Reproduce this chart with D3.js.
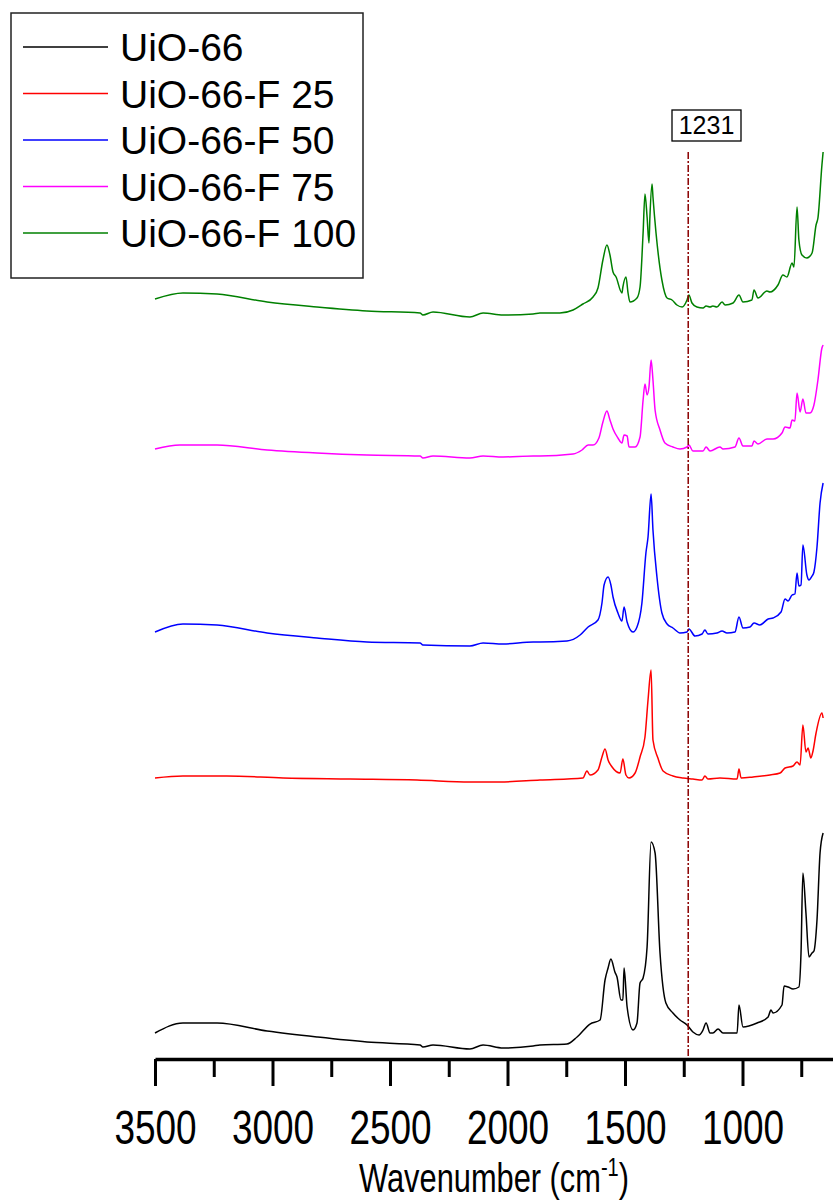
<!DOCTYPE html>
<html>
<head>
<meta charset="utf-8">
<script src="https://cdn.jsdelivr.net/npm/d3@7"></script>
<style>
  body { margin: 0; background: #fff; }
  svg { display: block; font-family: Arial, "Liberation Sans", sans-serif; }
</style>
</head>
<body>
<svg id="chart" width="833" height="1202"></svg>
<script>
// series names + colours
const seriesNames = ["UiO-66", "UiO-66-F 25", "UiO-66-F 50", "UiO-66-F 75", "UiO-66-F 100"]
const seriesColors = ["#000000", "#ff0000", "#0000ff", "#ff00ff", "#008000"]

// wavenumbers (cm-1) and stacked intensity
const wnBlack = [3500,3381,3236,3023,2811,2598,2372,2360,2317,2160,2104,2019,1891,1862,1747,1704,1649,1606,1585,1572,1560,1543,1534,1517,1509,1504,1491,1466,1449,1436,1423,1406,1389,1372,1351,1326,1296,1266,1236,1211,1185,1168,1155,1138,1126,1104,1083,1023,1015,998,938,891,879,870,832,823,806,785,760,751,743,730,717,704,696,683,670,657]
const valBlack = [2.6,3.6,3.6,2.8,2.2,1.7,1.4,1.2,1.4,1.0,1.4,1.1,1.3,1.4,1.5,2.2,3.5,3.9,7.9,9.1,10.0,8.7,8.2,5.9,5.9,9.1,5.2,2.9,3.6,7.6,8.1,11.2,21.7,20.6,10.6,5.6,4.6,3.9,3.4,2.7,2.4,2.9,3.6,2.6,2.6,3.0,2.6,2.6,5.4,3.2,3.6,4.2,4.9,4.6,5.4,7.3,7.2,7.0,7.2,10.6,18.6,14.6,10.2,10.6,10.8,13.9,20.6,22.6]

const wnRed = [3500,3381,3194,2955,2670,2385,2160,2032,1862,1679,1662,1649,1615,1598,1585,1572,1555,1521,1509,1496,1483,1457,1436,1415,1402,1389,1381,1360,1338,1296,1253,1211,1172,1160,1147,1096,1023,1015,1006,955,883,840,819,785,768,755,743,730,721,709,700,687,662,657]
const valRed = [28.1,28.3,28.3,28.1,28.0,27.9,27.7,27.7,27.9,28.1,28.8,28.4,28.9,30.2,31.0,29.9,29.2,28.6,30.0,28.4,28.1,28.6,30.2,32.2,35.9,38.9,31.9,30.1,28.8,28.3,28.1,28.0,27.9,28.3,28.0,28.1,28.0,29.0,28.1,28.2,28.4,28.6,29.1,29.3,29.7,29.4,33.4,30.7,31.1,30.1,30.8,32.6,34.6,34.1]

const wnBlue = [3500,3381,3236,3023,2811,2598,2372,2360,2160,2104,2019,1891,1862,1747,1691,1657,1615,1598,1589,1572,1560,1551,1530,1513,1504,1491,1466,1449,1428,1411,1402,1389,1381,1364,1343,1321,1296,1266,1236,1228,1202,1172,1160,1147,1109,1087,1066,1032,1015,998,968,951,926,891,870,836,819,806,789,777,768,760,751,743,726,717,704,696,683,670,657]
const valBlue = [42.7,43.5,43.4,42.6,42.1,41.7,41.6,41.4,41.3,41.6,41.5,41.7,41.7,41.8,42.4,43.2,43.9,45.6,47.4,48.2,47.4,46.2,44.6,43.8,45.2,43.7,42.7,43.2,45.6,50.6,52.2,56.5,52.9,48.2,44.6,43.5,43.1,42.6,42.7,43.0,42.3,42.5,42.9,42.5,42.6,42.8,42.6,42.7,44.2,43.1,43.2,43.6,43.4,44.0,44.1,44.7,46.0,45.8,46.4,46.5,48.6,47.3,47.4,51.4,48.4,47.9,48.3,48.7,51.2,55.6,57.6]

const wnMagenta = [3500,3394,3236,3023,2811,2598,2372,2360,2317,2160,2104,2019,1891,1862,1721,1683,1657,1636,1611,1594,1577,1564,1551,1530,1513,1504,1491,1483,1457,1436,1423,1415,1406,1398,1389,1381,1372,1351,1330,1296,1266,1236,1228,1211,1168,1155,1138,1096,1083,1032,1015,998,960,951,934,896,870,832,819,798,789,777,768,755,743,730,713,696,679,662,657]
const valMagenta = [61.0,61.4,61.4,60.9,60.6,60.4,60.3,60.1,60.3,60.1,60.3,60.2,60.3,60.3,60.5,60.9,61.4,61.4,62.1,63.7,64.8,63.9,63.0,62.1,61.6,62.4,62.3,61.2,61.2,62.2,65.9,67.5,66.4,67.2,69.9,67.9,64.9,62.9,61.6,61.2,61.0,61.2,61.4,60.8,60.8,61.2,60.8,61.2,61.0,61.2,62.1,61.3,61.3,61.8,61.5,62.0,62.0,62.6,63.2,63.1,63.9,63.8,66.6,64.7,66.0,64.6,64.6,65.4,67.9,71.1,71.4]

const wnGreen = [3500,3381,3236,3023,2811,2598,2372,2360,2317,2160,2104,2019,1891,1862,1777,1721,1679,1636,1615,1594,1577,1564,1551,1538,1513,1509,1496,1487,1479,1449,1436,1423,1415,1406,1398,1394,1385,1381,1368,1343,1321,1300,1279,1257,1236,1228,1215,1194,1168,1155,1138,1126,1109,1087,1074,1040,1015,998,960,951,934,896,883,849,828,811,789,781,768,760,747,726,704,687,679,662,657]
const valGreen = [76.0,76.6,76.5,75.7,75.2,74.8,74.6,74.4,74.7,74.2,74.6,74.4,74.5,74.6,74.6,74.9,75.5,76.2,77.1,79.9,81.4,80.4,78.7,78.2,76.6,77.2,78.2,76.6,75.7,76.1,77.2,82.6,86.5,84.2,81.6,84.2,87.5,86.2,82.6,77.9,76.1,75.9,75.4,75.2,75.9,76.4,75.6,75.2,75.1,75.3,75.2,75.3,75.2,75.7,75.4,75.6,76.4,75.7,75.9,76.9,76.1,76.8,76.7,77.4,78.4,78.2,79.6,79.2,85.2,81.9,80.4,80.1,80.6,83.4,84.1,89.4,90.7]

const majorTicks = [3500, 3000, 2500, 2000, 1500, 1000]
const minorTicks = [3250, 2750, 2250, 1750, 1250, 750]
const markWn = 1231

const svg = d3.select("#chart")

let x = d3.scaleLinear().domain([3500, 600]).range([155, 836.5])
let y = d3.scaleLinear().domain([0, 100]).range([1059, 59])

let allSeries = [
    {wn: wnBlack, val: valBlack},
    {wn: wnRed, val: valRed},
    {wn: wnBlue, val: valBlue},
    {wn: wnMagenta, val: valMagenta},
    {wn: wnGreen, val: valGreen}
]

const line = d3.line()
    .x(d => x(d[0]))
    .y(d => y(d[1]))
    .curve(d3.curveMonotoneX)

allSeries.forEach((s, i) => {
    let pts = s.wn.map((w, j) => [w, s.val[j]])
    svg.append("path")
        .attr("d", line(pts))
        .attr("fill", "none")
        .attr("stroke", seriesColors[i])
        .attr("stroke-width", 1.5)
        .attr("stroke-linejoin", "round")
})

// marker line at 1231
svg.append("line")
    .attr("x1", x(markWn)).attr("x2", x(markWn))
    .attr("y1", 152).attr("y2", y(0))
    .attr("stroke", "#8b0000")
    .attr("stroke-width", 1.5)
    .attr("stroke-dasharray", "7,2,2,2")

svg.append("rect")
    .attr("x", 672).attr("y", 110)
    .attr("width", 69).attr("height", 31)
    .attr("fill", "#fff")
    .attr("stroke", "#000")
    .attr("stroke-width", 1.3)
svg.append("text")
    .attr("x", 706.5).attr("y", 134)
    .attr("text-anchor", "middle")
    .attr("font-size", 25)
    .text(markWn)

// x axis
let minorAxis = svg.append("g")
    .attr("transform", `translate(0, ${y(0)})`)
    .call(d3.axisBottom(x).tickValues(minorTicks).tickSize(18).tickSizeOuter(0).tickFormat(""))
minorAxis.select(".domain").remove()
minorAxis.selectAll("line").attr("stroke-width", 3)

let majorAxis = svg.append("g")
    .attr("transform", `translate(0, ${y(0)})`)
    .call(d3.axisBottom(x).tickValues(majorTicks).tickSize(27).tickSizeOuter(0).tickPadding(24).tickFormat(d3.format("d")))
majorAxis.select(".domain").attr("stroke-width", 3.5)
majorAxis.selectAll("line").attr("stroke-width", 3)
majorAxis.selectAll("text")
    .attr("font-size", 48)
    .attr("font-family", "Arial, 'Liberation Sans', sans-serif")
    .attr("fill", "#000")
    .attr("dy", "0.71em")
    .attr("transform", "scale(0.77,1)")

// axis title
let title = svg.append("g").attr("transform", "translate(494, 1192) scale(0.77,1)")
let t = title.append("text").attr("text-anchor", "middle").attr("font-size", 40)
t.append("tspan").text("Wavenumber (cm")
t.append("tspan").attr("font-size", 26).attr("dy", -16).text("-1")
t.append("tspan").attr("dy", 16).text(")")

// legend
svg.append("rect")
    .attr("x", 11).attr("y", 13)
    .attr("width", 352).attr("height", 265)
    .attr("fill", "#fff")
    .attr("stroke", "#222")
    .attr("stroke-width", 1.5)

seriesNames.forEach((name, i) => {
    let ly = 47 + i * 46.5
    svg.append("line")
        .attr("x1", 23).attr("x2", 108)
        .attr("y1", ly).attr("y2", ly)
        .attr("stroke", seriesColors[i])
        .attr("stroke-width", 1.5)
    svg.append("text")
        .attr("x", 120).attr("y", ly + 14)
        .attr("font-size", 39)
        .text(name)
})
</script>
</body>
</html>
